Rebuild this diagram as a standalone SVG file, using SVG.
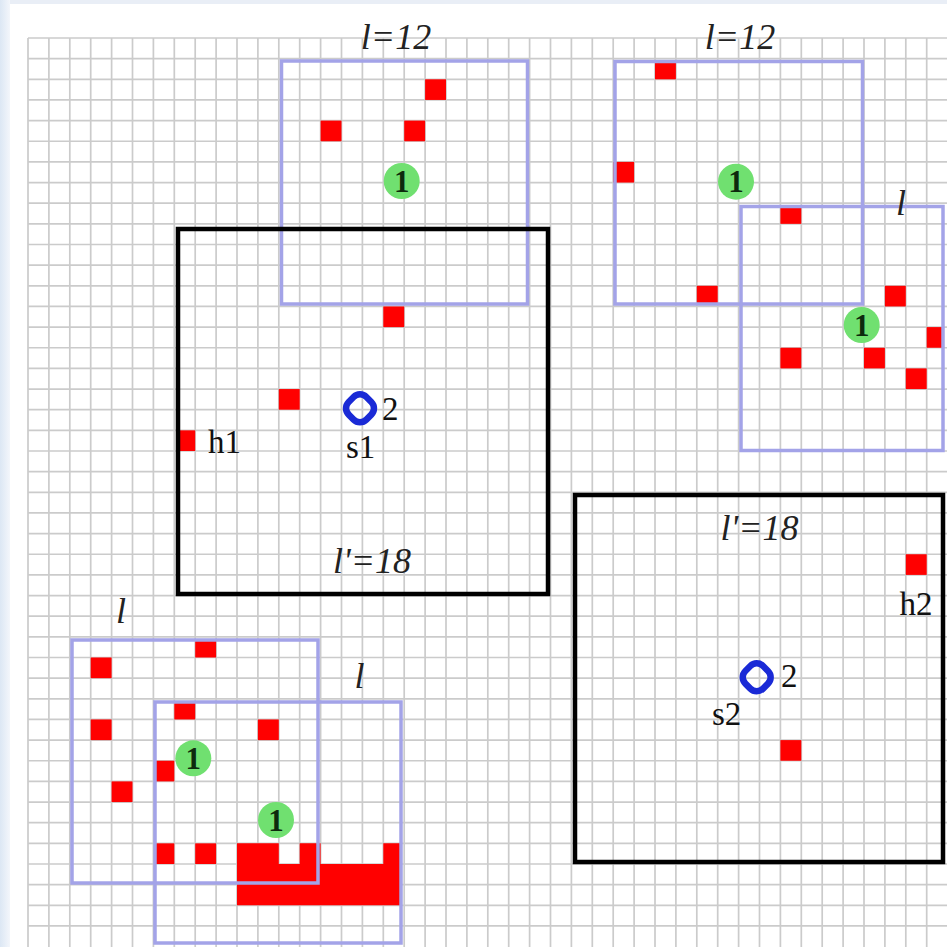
<svg xmlns="http://www.w3.org/2000/svg" width="947" height="947" viewBox="0 0 947 947">
<defs>
<style>
.g{stroke:#cbcbcb;stroke-width:1.7;fill:none}
.r{fill:#ff0000}
.bb{fill:none;stroke:#a3a3e8;stroke-width:3.5}
.kb{fill:none;stroke:#000;stroke-width:4.5}
.gc{fill:#70e070}
.ring{fill:none;stroke:#1a2ad6;stroke-width:6.5}
.t{font-family:"Liberation Serif","Times New Roman",serif;fill:#111}
.it{font-family:"Liberation Serif","Times New Roman",serif;font-style:italic;font-size:36px;fill:#222;text-anchor:middle}
.n{font-size:31px;text-anchor:middle;font-weight:bold;fill:#0d2a0d}
.lb{font-size:33px}
</style>
<linearGradient id="edge" x1="0" y1="0" x2="1" y2="0">
<stop offset="0" stop-color="#dce7f4"/>
<stop offset="1" stop-color="#f3f6fb"/>
</linearGradient>
</defs>
<rect x="0" y="0" width="947" height="947" fill="#ffffff"/>
<rect x="0" y="0" width="947" height="4" fill="#e9eef6"/>
<rect x="0" y="0" width="10" height="947" fill="url(#edge)"/>
<g id="grid">
<path class="g" d="M28 38V947M48.9 38V947M69.8 38V947M90.7 38V947M111.6 38V947M132.5 38V947M153.4 38V947M174.3 38V947M195.2 38V947M216.1 38V947M237 38V947M257.9 38V947M278.8 38V947M299.7 38V947M320.6 38V947M341.5 38V947M362.4 38V947M383.3 38V947M404.2 38V947M425.1 38V947M446 38V947M466.9 38V947M487.8 38V947M508.7 38V947M529.6 38V947M550.5 38V947M571.4 38V947M592.3 38V947M613.2 38V947M634.1 38V947M655 38V947M675.9 38V947M696.8 38V947M717.7 38V947M738.6 38V947M759.5 38V947M780.4 38V947M801.3 38V947M822.2 38V947M843.1 38V947M864 38V947M884.9 38V947M905.8 38V947M926.7 38V947"/>
<path class="g" d="M28 38H947M28 58.65H947M28 79.3H947M28 99.95H947M28 120.6H947M28 141.25H947M28 161.9H947M28 182.55H947M28 203.2H947M28 223.85H947M28 244.5H947M28 265.15H947M28 285.8H947M28 306.45H947M28 327.1H947M28 347.75H947M28 368.4H947M28 389.05H947M28 409.7H947M28 430.35H947M28 451H947M28 471.65H947M28 492.3H947M28 512.95H947M28 533.6H947M28 554.25H947M28 574.9H947M28 595.55H947M28 616.2H947M28 636.85H947M28 657.5H947M28 678.15H947M28 698.8H947M28 719.45H947M28 740.1H947M28 760.75H947M28 781.4H947M28 802.05H947M28 822.7H947M28 843.35H947M28 864H947M28 884.65H947M28 905.3H947M28 925.95H947"/>
</g>
<g id="occupied-cells">
<rect class="r" x="425.1" y="79.3" width="20.9" height="20.65"/>
<rect class="r" x="320.6" y="120.6" width="20.9" height="20.65"/>
<rect class="r" x="404.2" y="120.6" width="20.9" height="20.65"/>
<rect class="r" x="383.3" y="306.45" width="20.9" height="20.65"/>
<rect class="r" x="655" y="61" width="20.9" height="18.3"/>
<rect class="r" x="613.2" y="161.9" width="20.9" height="20.65"/>
<rect class="r" x="780.4" y="205.5" width="20.9" height="18.35"/>
<rect class="r" x="696.8" y="285.8" width="20.9" height="18.5"/>
<rect class="r" x="884.9" y="285.8" width="20.9" height="20.65"/>
<rect class="r" x="926.7" y="327.1" width="16.3" height="20.65"/>
<rect class="r" x="780.4" y="347.75" width="20.9" height="20.65"/>
<rect class="r" x="864" y="347.75" width="20.9" height="20.65"/>
<rect class="r" x="905.8" y="368.4" width="20.9" height="20.65"/>
<rect class="r" x="278.8" y="389.05" width="20.9" height="20.65"/>
<rect class="r" x="176" y="430.35" width="19.2" height="20.65"/>
<rect class="r" x="905.8" y="554.25" width="20.9" height="20.65"/>
<rect class="r" x="780.4" y="740.1" width="20.9" height="20.65"/>
<rect class="r" x="195.2" y="640" width="20.9" height="17.5"/>
<rect class="r" x="90.7" y="657.5" width="20.9" height="20.65"/>
<rect class="r" x="174.3" y="702" width="20.9" height="17.45"/>
<rect class="r" x="90.7" y="719.45" width="20.9" height="20.65"/>
<rect class="r" x="257.9" y="719.45" width="20.9" height="20.65"/>
<rect class="r" x="155" y="760.75" width="19.3" height="20.65"/>
<rect class="r" x="111.6" y="781.4" width="20.9" height="20.65"/>
<rect class="r" x="155" y="843.35" width="19.3" height="20.65"/>
<rect class="r" x="195.2" y="843.35" width="20.9" height="20.65"/>
<path class="r" d="M237 843.35H278.8V864H299.7V843.35H320.6V864H383.3V843.35H401V905.3H237Z"/>
</g>
<g id="windows">
<rect id="win-l12-a" class="bb" x="281.5" y="61" width="246" height="243"/>
<rect id="win-l12-b" class="bb" x="615" y="61.5" width="247.5" height="242.5"/>
<rect id="win-l-c" class="bb" x="741" y="206.5" width="202" height="244"/>
<rect id="win-l-d" class="bb" x="72" y="640" width="246" height="243"/>
<rect id="win-l-e" class="bb" x="155" y="702" width="246" height="241"/>
<rect id="win-l18-s1" class="kb" x="178" y="229" width="370" height="365"/>
<rect id="win-l18-s2" class="kb" x="575" y="495" width="368" height="367"/>
</g>
<g id="marker-1a"><circle class="gc" cx="401.7" cy="181" r="18"/><text class="t n" x="401.7" y="191.5">1</text></g>
<g id="marker-1b"><circle class="gc" cx="736" cy="181.7" r="18"/><text class="t n" x="736" y="192.2">1</text></g>
<g id="marker-1c"><circle class="gc" cx="861.7" cy="325" r="18"/><text class="t n" x="861.7" y="335.5">1</text></g>
<g id="marker-1d"><circle class="gc" cx="193.3" cy="758.3" r="18"/><text class="t n" x="193.3" y="768.8">1</text></g>
<g id="marker-1e"><circle class="gc" cx="276" cy="820" r="18"/><text class="t n" x="276" y="830.5">1</text></g>
<g id="s1">
<rect class="ring" x="-12.5" y="-12.5" width="25" height="25" rx="9" transform="translate(360 408.3) rotate(45)"/>
<text class="t lb" x="382" y="420">2</text>
<text class="t lb" x="346" y="458">s1</text>
</g>
<g id="s2">
<rect class="ring" x="-12.5" y="-12.5" width="25" height="25" rx="9" transform="translate(756.7 677.3) rotate(45)"/>
<text class="t lb" x="781" y="687">2</text>
<text class="t lb" x="712" y="725">s2</text>
</g>
<g id="h1"><text class="t lb" x="208" y="453">h1</text></g>
<g id="h2"><text class="t lb" x="899.5" y="615">h2</text></g>
<g id="labels">
<text class="it" x="396" y="48.5">l=12</text>
<text class="it" x="740" y="48.5">l=12</text>
<text class="it" x="901" y="215">l</text>
<text class="it" x="121" y="623">l</text>
<text class="it" x="359.5" y="688">l</text>
<text class="it" x="372" y="573">l'=18</text>
<text class="it" x="759.5" y="540">l'=18</text>
</g>
</svg>
